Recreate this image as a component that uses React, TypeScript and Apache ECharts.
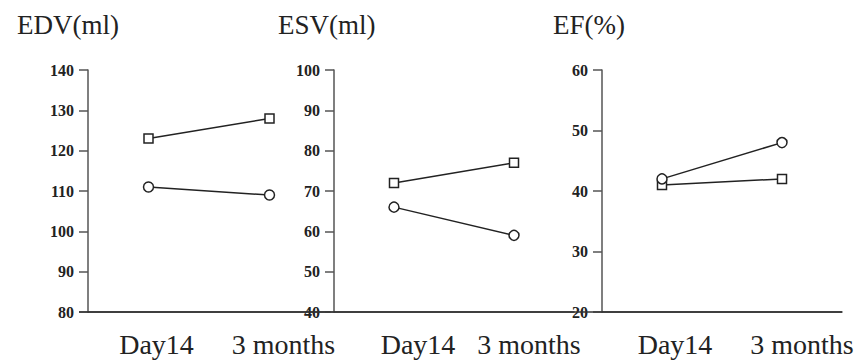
import React, { useEffect, useRef } from "react";
import * as echarts from "echarts";

const categories = ["Day14", "3 months"];
const panelTitles = ["EDV(ml)", "ESV(ml)", "EF(%)"];
const circleEDV = [111, 109];
const squareEDV = [123, 128];
const circleESV = [66, 59];
const squareESV = [72, 77];
const circleEF = [42, 48];
const squareEF = [41, 42];
const yMins = [80, 40, 20];
const yMaxs = [140, 100, 60];

const circleSets = [circleEDV, circleESV, circleEF];
const squareSets = [squareEDV, squareESV, squareEF];

export default function App() {
  const ref = useRef<HTMLDivElement>(null);
  useEffect(() => {
    if (!ref.current) return;
    const chart = echarts.init(ref.current, null, { renderer: "svg" });
    const font = "Liberation Serif";
    const ink = "#222";
    const gridLefts = [88, 334, 602];
    const gridWidths = [242, 240, 240];
    const titleLefts = [12, 273, 548];
    const labelShift = [
      [8, 14],
      [24, 15],
      [13, 20],
    ];
    const grids = gridLefts.map((l, i) => ({
      left: l,
      width: gridWidths[i],
      top: 70,
      height: 242,
    }));
    const xAxes = gridLefts.map((_, i) => ({
      type: "category",
      gridIndex: i,
      boundaryGap: true,
      data: categories.map((c, j) => ({
        value: c,
        textStyle: { padding: [0, 0, 0, labelShift[i][j] * 2] },
      })),
      axisLine: { show: true, lineStyle: { color: "#333", width: 1.5 } },
      axisTick: { show: false },
      axisLabel: {
        interval: 0,
        margin: 18,
        fontSize: 28,
        fontFamily: font,
        color: ink,
      },
      splitLine: { show: false },
    }));
    const yAxes = gridLefts.map((_, i) => ({
      type: "value",
      gridIndex: i,
      min: yMins[i],
      max: yMaxs[i],
      interval: 10,
      axisLine: { show: true, lineStyle: { color: "#555", width: 1.5 } },
      axisTick: { show: true, length: 9, lineStyle: { color: "#555", width: 1.5 } },
      axisLabel: {
        margin: 14,
        fontSize: 16,
        fontWeight: "bold",
        fontFamily: font,
        color: ink,
      },
      splitLine: { show: false },
    }));
    const markerStyle = { color: "#fff", borderColor: ink, borderWidth: 1.5 };
    const series: any[] = [];
    for (let i = 0; i < 3; i++) {
      series.push({
        type: "line",
        xAxisIndex: i,
        yAxisIndex: i,
        data: squareSets[i],
        symbol: "rect",
        symbolSize: 9,
        showAllSymbol: true,
        lineStyle: { color: ink, width: 1.5 },
        itemStyle: markerStyle,
        z: 3,
      });
      series.push({
        type: "line",
        xAxisIndex: i,
        yAxisIndex: i,
        data: circleSets[i],
        symbol: "circle",
        symbolSize: 10,
        showAllSymbol: true,
        lineStyle: { color: ink, width: 1.5 },
        itemStyle: markerStyle,
        z: 4,
      });
    }
    chart.setOption({
      animation: false,
      backgroundColor: "#fff",
      title: panelTitles.map((t, i) => ({
        text: t,
        left: titleLefts[i],
        top: 6,
        textStyle: { fontFamily: font, fontSize: 27, fontWeight: "normal", color: ink },
      })),
      grid: grids,
      xAxis: xAxes,
      yAxis: yAxes,
      series,
      graphic: [
        {
          type: "line",
          shape: { x1: 79, y1: 312, x2: 842, y2: 312 },
          style: { stroke: "#333", lineWidth: 1.5 },
          z: 1,
        },
      ],
    });
    return () => chart.dispose();
  }, []);
  return (
    <div
      ref={ref}
      style={{ position: "fixed", left: 0, top: 0, width: 859, height: 362, background: "#fff" }}
    />
  );
}
